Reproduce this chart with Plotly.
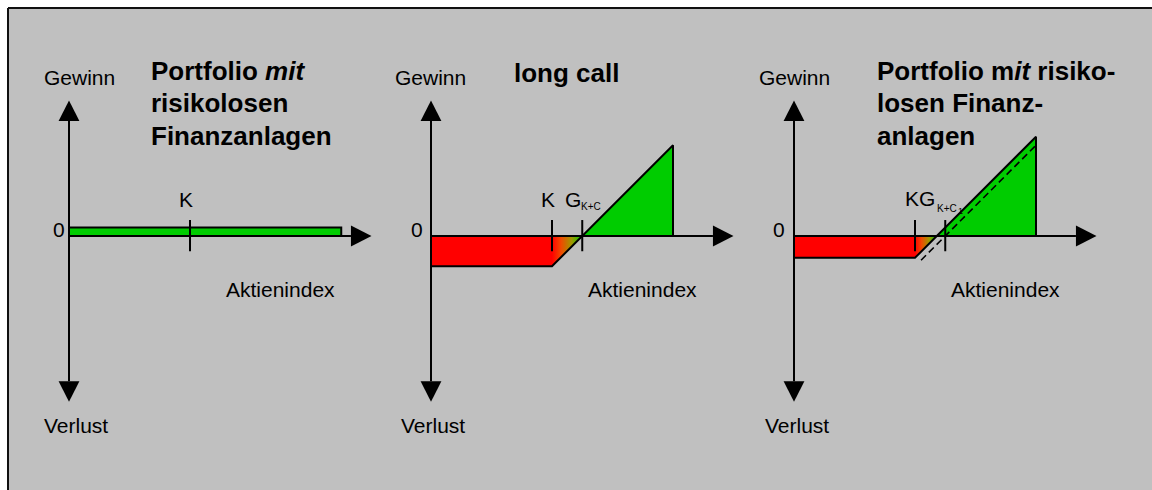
import plotly.graph_objects as go

# ---------------- data (payoff units, strike K = 100) ----------------
STRIKE = 100
RISKFREE_GAIN = 7            # panel 1: constant gain of the riskless portfolio
CALL_PREMIUM = 25            # panel 2: premium paid for the long call
NET_PREMIUM = 18             # panel 3: premium minus riskless gain
INDEX_END = [225, 200, 200]  # where each payoff drawing ends on the index axis
DASH_START = 105             # panel 3: dashed reference line start
DASH_BREAKEVEN = 125         # panel 3: break-even of dashed line (G_{K+C1})
AXIS_X_MAX = 250
AXIS_Y_MAX = 112
AXIS_Y_MIN = -137

LABEL_GAIN = "Gewinn"
LABEL_LOSS = "Verlust"
LABEL_INDEX = "Aktienindex"
LABEL_ZERO = "0"
TITLES = [
    ["Portfolio <i>mit</i>", "risikolosen", "Finanzanlagen"],
    ["long call"],
    ["Portfolio m<i>it</i> risiko-", "losen Finanz-", "anlagen"],
]

# ---------------- layout constants (pixels) ----------------
W, H = 1152, 490
SCALE = 1.21                 # px per payoff unit
ORIGIN_X = [69, 431, 794]
ORIGIN_Y = 236
FONT = "Liberation Sans, Arial, sans-serif"
RED = "#FF0000"
GREEN = "#00CC00"
BG = "#C0C0C0"
LW = 2

fig = go.Figure()
XA = ["x", "x2", "x3"]


def line(i, xs, ys, width=LW, dash=None):
    fig.add_trace(go.Scatter(x=xs, y=ys, xaxis=XA[i], yaxis="y", mode="lines",
                             line=dict(color="black", width=width, dash=dash),
                             hoverinfo="skip", showlegend=False))


def poly(i, xs, ys, color, outline=0, gradient=None):
    kw = {}
    if gradient is not None:
        kw["fillgradient"] = dict(type="horizontal", colorscale=gradient)
    else:
        kw["fillcolor"] = color
    fig.add_trace(go.Scatter(x=xs, y=ys, xaxis=XA[i], yaxis="y", mode="lines",
                             fill="toself",
                             line=dict(color="black", width=outline),
                             hoverinfo="skip", showlegend=False, **kw))


def axes(i):
    aw = 8.6   # arrow half width (units)
    al = 17    # arrow length (units)
    line(i, [0, 0], [AXIS_Y_MIN + al, AXIS_Y_MAX - al])
    line(i, [0, AXIS_X_MAX - al], [0, 0])
    poly(i, [-aw, aw, 0, -aw], [AXIS_Y_MAX - al, AXIS_Y_MAX - al, AXIS_Y_MAX, AXIS_Y_MAX - al], "black")
    poly(i, [-aw, aw, 0, -aw], [AXIS_Y_MIN + al, AXIS_Y_MIN + al, AXIS_Y_MIN, AXIS_Y_MIN + al], "black")
    poly(i, [AXIS_X_MAX - al, AXIS_X_MAX - al, AXIS_X_MAX, AXIS_X_MAX - al], [aw, -aw, 0, aw], "black")


def tick(i, x):
    line(i, [x, x], [13.2, -12.6])


GRAD = [[0, "#FF0000"], [0.3, "#F04A00"], [0.65, "#A09800"], [1, GREEN]]

# ---- panel 1: riskless portfolio ----
poly(0, [0, INDEX_END[0], INDEX_END[0], 0, 0], [0, 0, RISKFREE_GAIN, RISKFREE_GAIN, 0], GREEN, outline=LW)
axes(0)
tick(0, STRIKE)

# ---- panel 2 & 3: long call / portfolio ----
for i, prem in [(1, CALL_PREMIUM), (2, NET_PREMIUM)]:
    be = STRIKE + prem
    end = INDEX_END[i]
    poly(i, [0, STRIKE, STRIKE, 0, 0], [0, 0, -prem, -prem, 0], RED)
    poly(i, [STRIKE, STRIKE, be, STRIKE], [0, -prem, 0, 0], None, gradient=GRAD)
    poly(i, [be, end, end, be], [0, end - be, 0, 0], GREEN)
    if i == 2:
        line(i, [DASH_START, end], [DASH_START - DASH_BREAKEVEN, end - DASH_BREAKEVEN],
             width=1.6, dash="7px,4px")
    line(i, [0, STRIKE, end, end], [-prem, -prem, end - be, 0])
    axes(i)
    tick(i, STRIKE)
    tick(i, be if i == 1 else DASH_BREAKEVEN)


# ---------------- text ----------------
def ann(text, px, py, size=21, anchor="center"):
    fig.add_annotation(text=text, xref="paper", yref="paper", x=px / W, y=1 - py / H,
                       xanchor=anchor, yanchor="middle", showarrow=False,
                       font=dict(family=FONT, size=size, color="black"))


gain_x = [79, 430, 794]
loss_x = [76, 433, 797]
index_x = [280, 642, 1005]
zero_x = [58.5, 416.5, 779]
for i in range(3):
    ann(LABEL_GAIN, gain_x[i], 77)
    ann(LABEL_LOSS, loss_x[i], 425)
    ann(LABEL_INDEX, index_x[i], 289.5)
    ann(LABEL_ZERO, zero_x[i], 229.5)

title_x = [149, 512, 875]
title_y = [71, 103, 135.5]
for i, lines in enumerate(TITLES):
    for j, t in enumerate(lines):
        ann("<b>" + t + "</b>", title_x[i], title_y[j] + (1.5 if i == 1 else 0), size=26, anchor="left")

ann("K", 186, 199.5)
ann("K", 548, 199.5)
ann("G", 572.5, 199.5)
ann("K+C", 591, 207, size=10)
ann("KG", 902.5, 198.5, anchor="left")
ann("K+C", 934.5, 208.5, size=10, anchor="left")
ann("1", 955.5, 211.5, size=9, anchor="left")

# ---------------- axes / layout ----------------
for i, name in enumerate(["xaxis", "xaxis2", "xaxis3"]):
    ax = dict(range=[-ORIGIN_X[i] / SCALE, (W - ORIGIN_X[i]) / SCALE], domain=[0, 1],
              visible=False, fixedrange=True, anchor="y")
    if i > 0:
        ax["overlaying"] = "x"
    fig.update_layout(**{name: ax})

top = 1 - 8 / H
left = 8 / W
fig.update_layout(
    width=W, height=H, autosize=False,
    margin=dict(l=0, r=0, t=0, b=0, pad=0),
    paper_bgcolor=BG, plot_bgcolor="rgba(0,0,0,0)",
    yaxis=dict(range=[-(H - ORIGIN_Y) / SCALE, ORIGIN_Y / SCALE], visible=False, fixedrange=True),
    showlegend=False,
    shapes=[
        dict(type="rect", xref="paper", yref="paper", x0=0, x1=1, y0=top, y1=1,
             fillcolor="white", line=dict(width=0), layer="below"),
        dict(type="rect", xref="paper", yref="paper", x0=0, x1=left, y0=0, y1=1,
             fillcolor="white", line=dict(width=0), layer="below"),
        dict(type="line", xref="paper", yref="paper", x0=left, x1=1, y0=top, y1=top,
             line=dict(color="#111111", width=2), layer="below"),
        dict(type="line", xref="paper", yref="paper", x0=left, x1=left, y0=0, y1=top,
             line=dict(color="#111111", width=2), layer="below"),
    ],
)

fig.write_html("out.html", config={"displayModeBar": False, "staticPlot": True},
               post_script="document.body.style.margin='0';document.body.style.overflow='hidden';")
